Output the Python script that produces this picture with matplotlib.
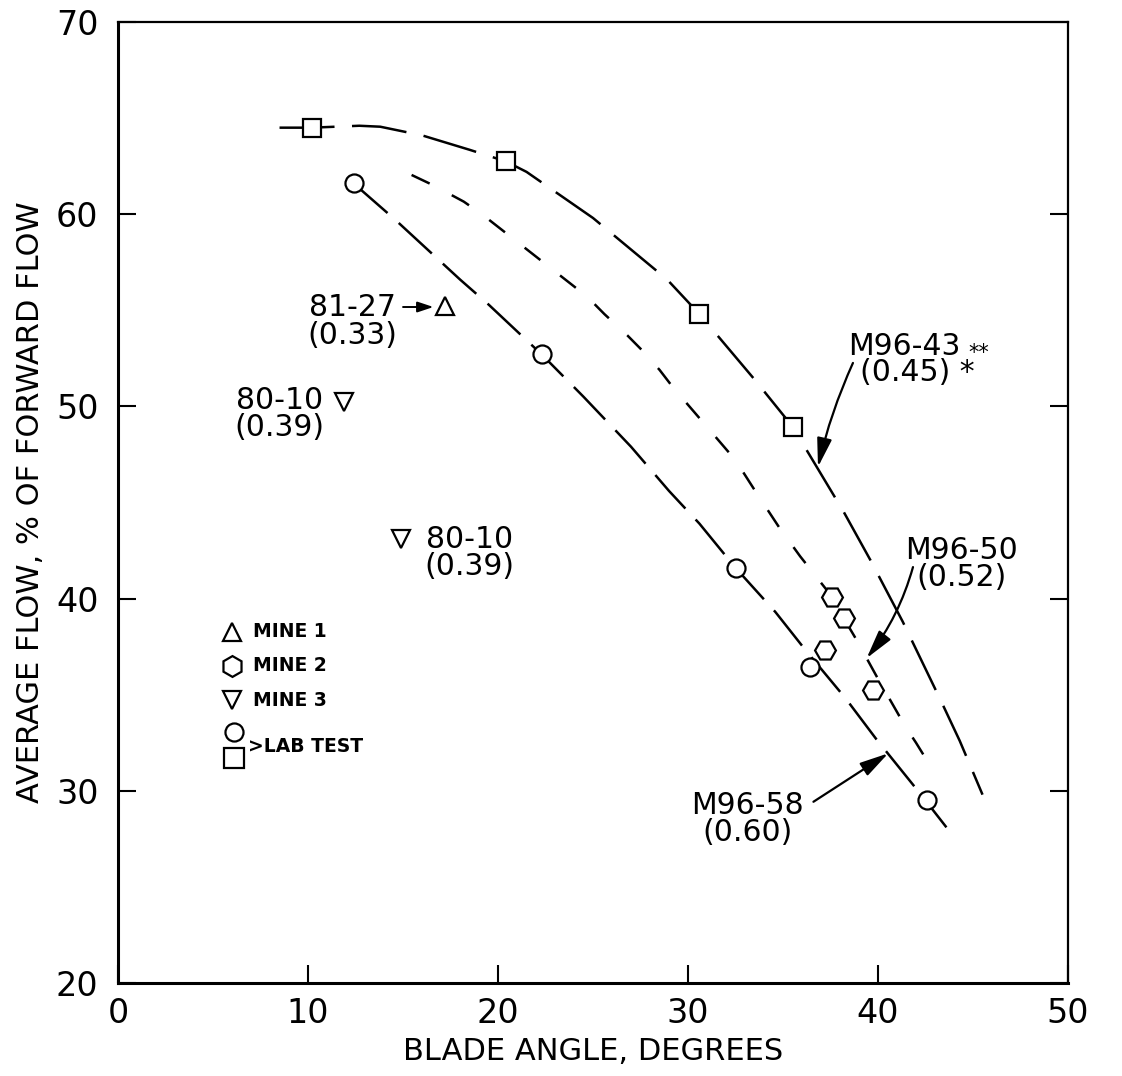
import matplotlib
matplotlib.use('Agg')
import matplotlib.pyplot as plt

# --- data ---
# curve M96-43 (0.45), through the lab-test squares
x_4345 = [8.5, 10.2, 12.7, 13.8, 16.0, 18.5, 20.4, 21.5, 25.0, 28.9, 30.6, 33.5, 35.5, 38.2, 39.6, 41.3, 43.35, 44.3, 45.5]
y_4345 = [64.5, 64.5, 64.6, 64.55, 64.1, 63.35, 62.75, 62.2, 59.8, 56.6, 54.8, 51.4, 48.95, 44.5, 42.0, 38.8, 34.6, 32.6, 29.8]
# curve M96-50 (0.52)
x_5052 = [15.45, 16.6, 18.2, 19.2, 24.7, 25.6, 26.8, 27.5, 28.5, 29.2, 31.2, 32.5, 33.6, 34.8, 35.9, 37.6, 38.2, 38.9, 39.4, 39.9, 41.0, 41.4, 42.0, 42.5]
y_5052 = [62.04, 61.5, 60.65, 59.96, 55.7, 54.8, 53.7, 53.0, 51.9, 51.0, 48.7, 47.2, 45.5, 43.7, 42.2, 40.07, 38.97, 37.8, 36.9, 36.0, 34.1, 33.4, 32.5, 31.7]
# curve M96-58 (0.60), through the lab-test circles
x_5860 = [12.4, 14.6, 18.0, 19.5, 22.3, 24.5, 27.0, 29.0, 30.6, 32.5, 34.6, 36.2, 38.3, 39.9, 42.1, 43.6]
y_5860 = [61.6, 59.7, 56.6, 55.3, 52.7, 50.5, 47.9, 45.6, 43.9, 41.6, 39.3, 37.3, 34.8, 32.7, 30.0, 28.1]

lab_sq_x = [10.2, 20.4, 30.6, 35.5]
lab_sq_y = [64.5, 62.75, 54.8, 48.95]
lab_ci_x = [12.4, 22.3, 32.5, 36.4, 42.6]
lab_ci_y = [61.6, 52.7, 41.6, 36.45, 29.5]

mine1_x = [17.2]
mine1_y = [55.2]
mine2_x = [37.6, 38.2, 37.2, 39.75]
mine2_y = [40.07, 38.97, 37.3, 35.25]
mine3_x = [11.9, 14.9]
mine3_y = [50.25, 43.1]

x_ticks = [0, 10, 20, 30, 40, 50]
y_ticks = [20, 30, 40, 50, 60, 70]

# --- figure ---
fig = plt.figure(figsize=(11.22, 10.76), dpi=100)
ax = fig.add_axes([0.1052, 0.0864, 0.8467, 0.8932])

lw = 1.8
ax.plot(x_4345, y_4345, color='k', lw=lw, linestyle=(0, (22, 7)))
ax.plot(x_5052, y_5052, color='k', lw=lw, linestyle=(0, (8, 10)))
ax.plot(x_5860, y_5860, color='k', lw=lw, linestyle=(0, (18, 6)))

mk = dict(linestyle='none', mfc='white', mec='k', mew=1.6, zorder=4)
ax.plot(lab_sq_x, lab_sq_y, marker='s', ms=13.5, **mk)
ax.plot(lab_ci_x, lab_ci_y, marker='o', ms=13, **mk)
ax.plot(mine1_x, mine1_y, marker='^', ms=13, **mk)
ax.plot(mine2_x, mine2_y, marker='H', ms=15, **mk)
ax.plot(mine3_x, mine3_y, marker='v', ms=13, **mk)

# labels on the points / curves (two lines)
fs = 21.5
lab = dict(fontsize=fs, ha='center', va='center', multialignment='center', linespacing=0.92)
ax.text(12.32, 54.42, '81-27\n(0.33)', **lab)
ax.annotate('', xy=(16.6, 55.17), xytext=(15.0, 55.17),
            arrowprops=dict(arrowstyle='-|>,head_length=0.6,head_width=0.2', color='k', lw=1.4,
                            shrinkA=0, shrinkB=0, mutation_scale=16))
ax.text(8.48, 49.61, '80-10\n(0.39)', **lab)
ax.text(18.51, 42.38, '80-10\n(0.39)', **lab)

ax.text(38.42, 53.11, 'M96-43', fontsize=fs, va='center')
ax.text(44.75, 52.8, '**', fontsize=15, va='center')
ax.text(39.05, 51.74, '(0.45) *', fontsize=fs, va='center')
ax.annotate('', xy=(36.84, 46.85), xytext=(38.68, 52.26),
            arrowprops=dict(arrowstyle='-|>,head_length=0.7,head_width=0.18', color='k', lw=1.6,
                            connectionstyle='arc3,rad=0.05', shrinkA=0, shrinkB=0, mutation_scale=25))

ax.text(44.4, 41.82, 'M96-50\n(0.52)', **lab)
ax.annotate('', xy=(39.4, 36.9), xytext=(41.84, 41.64),
            arrowprops=dict(arrowstyle='-|>,head_length=0.7,head_width=0.18', color='k', lw=1.6,
                            connectionstyle='arc3,rad=-0.1', shrinkA=0, shrinkB=0, mutation_scale=25))

ax.text(33.12, 28.54, 'M96-58\n(0.60)', **lab)
ax.annotate('', xy=(40.54, 31.95), xytext=(36.6, 29.43),
            arrowprops=dict(arrowstyle='-|>,head_length=0.7,head_width=0.18', color='k', lw=1.6,
                            shrinkA=0, shrinkB=0, mutation_scale=25))

# key in the lower left
key = [('^', 13, 'MINE 1'), ('h', 15, 'MINE 2'), ('v', 13, 'MINE 3')]
key_x, key_y0, key_dy = 0.1203, 0.3656, 0.0356
for i, (m, s, name) in enumerate(key):
    yy = key_y0 - i * key_dy
    ax.plot([key_x], [yy], marker=m, ms=s, transform=ax.transAxes, clip_on=False, **mk)
    ax.text(key_x + 0.0215, yy, name, fontsize=13.5, fontweight='bold', va='center', transform=ax.transAxes)
ax.plot([0.1221], [0.2609], marker='o', ms=13, transform=ax.transAxes, **mk)
ax.plot([0.1221], [0.2339], marker='s', ms=14, transform=ax.transAxes, **mk)
ax.text(0.1372, 0.2459, '>LAB TEST', fontsize=13.5, fontweight='bold', va='center', transform=ax.transAxes)

# axes
ax.set_xlim(0, 50)
ax.set_ylim(20, 70)
ax.set_xticks(x_ticks)
ax.set_yticks(y_ticks)
ax.tick_params(direction='in', length=13, width=1.5, labelsize=24, right=True)
ax.tick_params(axis='x', pad=10)
ax.tick_params(axis='y', pad=14)
for side in ['left', 'bottom']:
    ax.spines[side].set_linewidth(2.2)
for side in ['top', 'right']:
    ax.spines[side].set_linewidth(1.6)

ax.set_xlabel('BLADE ANGLE, DEGREES', fontsize=22)
ax.set_ylabel('AVERAGE FLOW, % OF FORWARD FLOW', fontsize=22)
ax.xaxis.set_label_coords(0.5, -0.056)
ax.yaxis.set_label_coords(-0.077, 0.5)

fig.savefig('out.png', dpi=100)
